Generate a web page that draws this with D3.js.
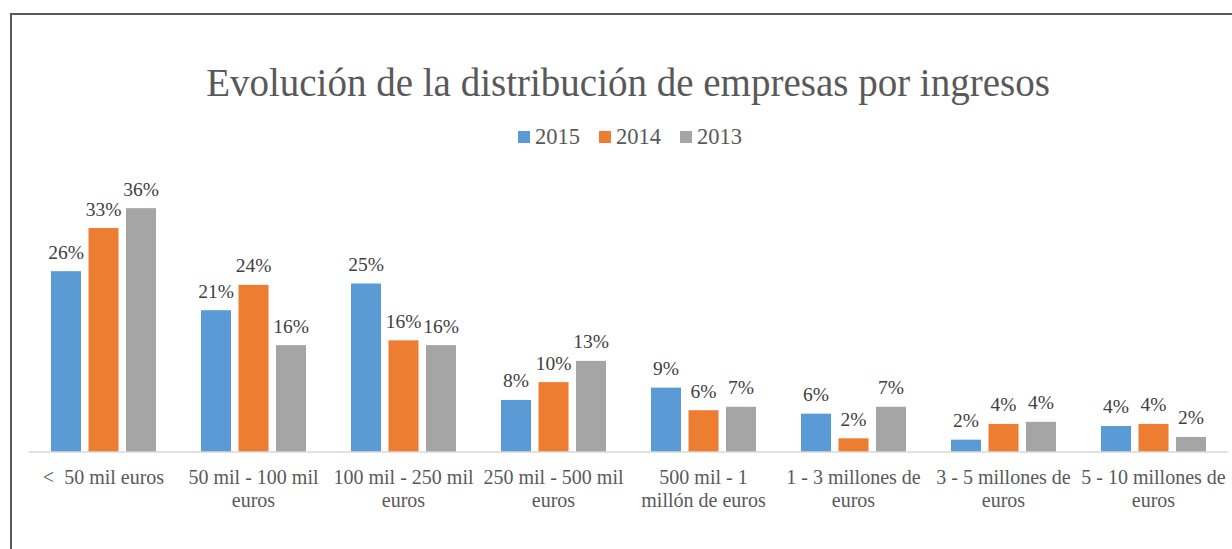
<!DOCTYPE html>
<html>
<head>
<meta charset="utf-8">
<script src="https://cdn.jsdelivr.net/npm/d3@7"></script>
<style>
  html, body { margin: 0; padding: 0; background: #ffffff; }
  svg { display: block; }
  text { font-family: "Liberation Serif", "Times New Roman", serif; }
</style>
</head>
<body>
<svg id="chart" width="1232" height="549"></svg>
<script>
// Revenue brackets (each entry holds the wrapped lines of the axis label)
const categories = [
  ["<  50 mil euros"],
  ["50 mil - 100 mil", "euros"],
  ["100 mil - 250 mil", "euros"],
  ["250 mil - 500 mil", "euros"],
  ["500 mil - 1", "millón de euros"],
  ["1 - 3 millones de", "euros"],
  ["3 - 5 millones de", "euros"],
  ["5 - 10 millones de", "euros"]
];

const seriesNames = ["2015", "2014", "2013"];

// Share of companies per bracket, in percent
const values2015 = [26.4, 20.7, 24.6, 7.6, 9.4, 5.6, 1.8, 3.8];
const values2014 = [32.7, 24.4, 16.3, 10.2, 6.1, 2.0, 4.1, 4.1];
const values2013 = [35.6, 15.6, 15.6, 13.3, 6.6, 6.6, 4.4, 2.2];

const seriesColors = ["#5B9BD5", "#ED7D31", "#A5A5A5"];

const titleText = "Evolución de la distribución de empresas por ingresos";

const seriesValues = [values2015, values2014, values2013];

const svg = d3.select("#chart");

// Chart frame
svg.append("rect")
  .attr("x", 11)
  .attr("y", 14)
  .attr("width", 1300)
  .attr("height", 600)
  .attr("fill", "#ffffff")
  .attr("stroke", "#595959")
  .attr("stroke-width", 2);

const plot = { left: 28.5, right: 1228.5, top: 178, bottom: 452 };

const x0 = d3.scaleBand()
  .domain(d3.range(categories.length))
  .range([plot.left, plot.right])
  .paddingInner(0.3)
  .paddingOuter(0.15);

const x1 = d3.scaleBand()
  .domain(d3.range(seriesNames.length))
  .range([0, x0.bandwidth()])
  .paddingInner(0.2)
  .paddingOuter(0);

const y = d3.scaleLinear()
  .domain([0, 40])
  .range([plot.bottom, plot.top]);

// Title
svg.append("text")
  .attr("x", 628)
  .attr("y", 96)
  .attr("text-anchor", "middle")
  .attr("font-size", 39)
  .attr("fill", "#595959")
  .text(titleText);

// Legend
const legendX = [518, 599, 680];
const legend = svg.append("g");
seriesNames.forEach((name, i) => {
  const g = legend.append("g").attr("transform", `translate(${legendX[i]},0)`);
  g.append("rect")
    .attr("x", 0).attr("y", 131)
    .attr("width", 12).attr("height", 12)
    .attr("fill", seriesColors[i]);
  g.append("text")
    .attr("x", 17).attr("y", 144)
    .attr("font-size", 22.5)
    .attr("fill", "#595959")
    .text(name);
});

// Bars and value labels
const groups = svg.append("g")
  .selectAll("g")
  .data(categories.map((c, i) => i))
  .join("g")
  .attr("transform", d => `translate(${x0(d)},0)`);

groups.selectAll("rect")
  .data(ci => seriesValues.map((vals, si) => ({ si, v: vals[ci] })))
  .join("rect")
  .attr("x", d => x1(d.si))
  .attr("y", d => y(d.v))
  .attr("width", x1.bandwidth())
  .attr("height", d => y(0) - y(d.v))
  .attr("fill", d => seriesColors[d.si]);

groups.selectAll("text.value")
  .data(ci => seriesValues.map((vals, si) => ({ si, v: vals[ci] })))
  .join("text")
  .attr("class", "value")
  .attr("x", d => x1(d.si) + x1.bandwidth() / 2)
  .attr("y", d => y(d.v) - 12.5)
  .attr("text-anchor", "middle")
  .attr("font-size", 19.5)
  .attr("fill", "#404040")
  .text(d => Math.round(d.v) + "%");

// Category axis
svg.append("line")
  .attr("x1", plot.left).attr("x2", plot.right)
  .attr("y1", plot.bottom).attr("y2", plot.bottom)
  .attr("stroke", "#d9d9d9")
  .attr("stroke-width", 1.5);

const labels = svg.append("g")
  .selectAll("text")
  .data(categories)
  .join("text")
  .attr("text-anchor", "middle")
  .attr("font-size", 20)
  .attr("fill", "#595959")
  .attr("xml:space", "preserve")
  .style("white-space", "pre");

labels.each(function (lines, i) {
  const t = d3.select(this);
  lines.forEach((line, k) => {
    t.append("tspan")
      .attr("x", x0(i) + x0.bandwidth() / 2)
      .attr("y", 483.5 + k * 23.4)
      .text(line);
  });
});
</script>
</body>
</html>
